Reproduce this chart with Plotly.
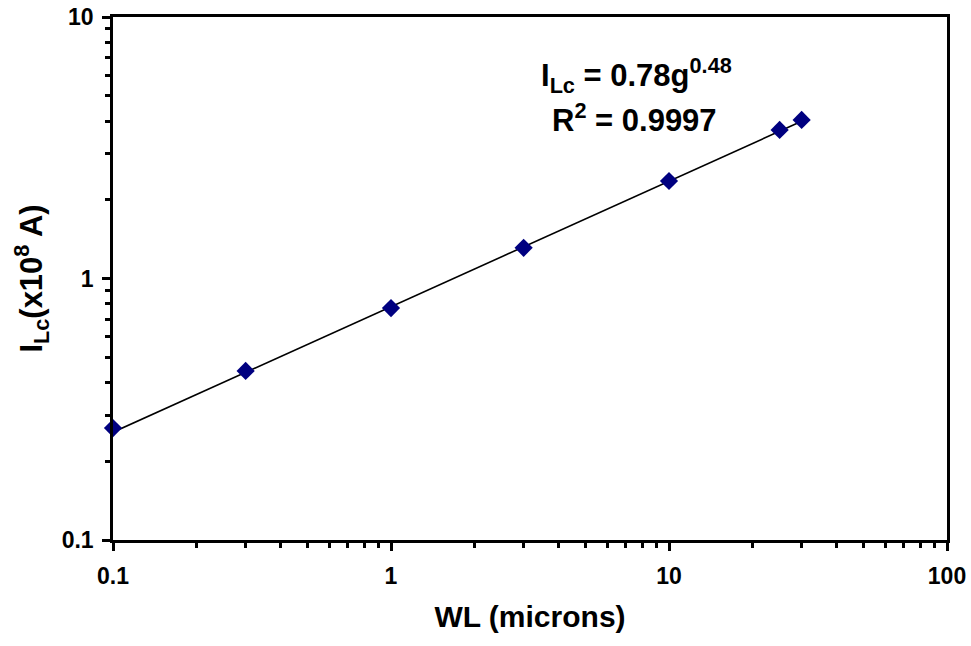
import plotly.graph_objects as go

# data
wl = [0.1, 0.3, 1, 3, 10, 25, 30]
ilc = [0.268, 0.443, 0.771, 1.31, 2.36, 3.70, 4.04]
fit_a = 0.78
fit_b = 0.48
fit_x = [0.1, 0.2, 0.5, 1, 2, 5, 10, 20, 30]
fit_y = [fit_a * x ** fit_b for x in fit_x]

x_ticks = [0.1, 1, 10, 100]
x_ticktext = ["0.1", "1", "10", "100"]
y_ticks = [0.1, 1, 10]
y_ticktext = ["0.1", "1", "10"]
x_minor = [m * d for d in [0.1, 1, 10] for m in range(2, 10)]
y_minor = [m * d for d in [0.1, 1] for m in range(2, 10)]

font = "Liberation Sans"

fig = go.Figure()
fig.add_trace(go.Scatter(x=fit_x, y=fit_y, mode="lines",
                         line=dict(color="black", width=1.6), showlegend=False))
fig.add_trace(go.Scatter(x=wl, y=ilc, mode="markers",
                         marker=dict(symbol="diamond", size=14, color="#000080"),
                         cliponaxis=False, showlegend=False))

axis_common = dict(type="log", showgrid=False, zeroline=False, showline=True,
                   linecolor="black", linewidth=2.5, mirror=True, ticks="outside",
                   ticklen=8, tickwidth=2.5, tickcolor="black",
                   tickfont=dict(family=font, size=23, color="black", weight="bold"))
minor_common = dict(ticks="outside", ticklen=5, tickwidth=2.5, tickcolor="black")

fig.update_xaxes(**axis_common, range=[-1, 2], tickvals=x_ticks,
                 ticktext=x_ticktext,
                 minor=dict(tickvals=x_minor, **minor_common),
                 ticklabelstandoff=6,
                 title=dict(text="WL (microns)",
                            font=dict(family=font, size=30, color="black", weight="bold"),
                            standoff=18))
fig.update_yaxes(**axis_common, range=[-1, 1], tickvals=y_ticks,
                 ticktext=y_ticktext,
                 minor=dict(tickvals=y_minor, **minor_common),
                 ticklabelstandoff=4,
                 title=dict(text="I<sub>Lc</sub>(x10<sup>8</sup> A)",
                            font=dict(family=font, size=31, color="black", weight="bold"),
                            standoff=10))

fig.add_annotation(x=(636 - 113) / 834, y=(540 - 75) / 523, xref="paper", yref="paper",
                   text="I<sub>Lc</sub> = 0.78g<sup>0.48</sup>", showarrow=False,
                   yanchor="middle",
                   font=dict(family=font, size=31, color="black", weight="bold"))
fig.add_annotation(x=(634 - 113) / 834, y=(540 - 118) / 523, xref="paper", yref="paper",
                   text="R<sup>2</sup> = 0.9997", showarrow=False,
                   yanchor="middle",
                   font=dict(family=font, size=31, color="black", weight="bold"))

fig.update_layout(width=971, height=646, margin=dict(l=113, r=24, t=17, b=106, autoexpand=False),
                  paper_bgcolor="white", plot_bgcolor="white",
                  font=dict(family=font, color="black"))

fig.write_html("out.html")
